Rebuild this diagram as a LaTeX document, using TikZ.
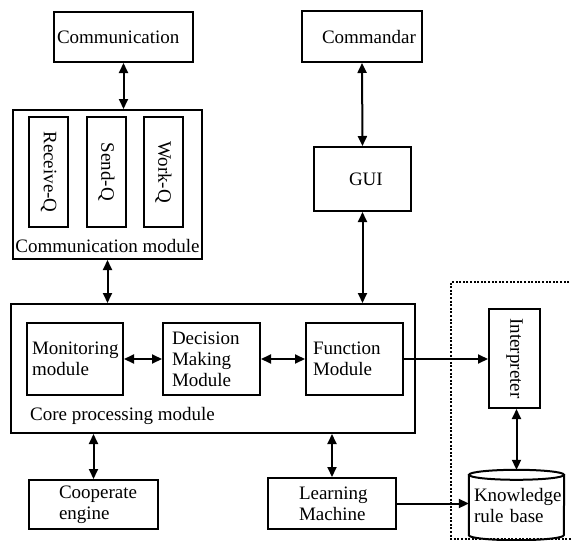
\documentclass[tikz,border=0pt]{standalone}
\usepackage{fontspec}
\setmainfont{Liberation Serif}
\usetikzlibrary{arrows.meta}
\tikzset{
  txt/.style={font=\fontsize{19}{21}\selectfont},
  box/.style={txt, draw, line width=2pt, inner sep=0pt, align=left},
  link/.style={line width=2pt, -{Triangle[length=10pt,width=9pt]}},
  dlink/.style={line width=2pt, {Triangle[length=10pt,width=9pt]}-{Triangle[length=10pt,width=9pt]}},
  groupframe/.style={line width=2.2pt, dash pattern=on 2pt off 1.6pt},
}
\begin{document}
\begin{tikzpicture}[x=1pt, y=-1pt]
\useasboundingbox (0,0) rectangle (571,541);

% top row
\node[box, minimum width=139pt, minimum height=50pt, text width=133pt] (comm) at (123.5,37) {Communication};
\node[box, minimum width=120pt, minimum height=51pt, text width=80pt] (cmd) at (362,36.5) {Commandar};
\node[box, minimum width=97pt, minimum height=64pt, text width=27pt] (gui) at (362.5,179) {GUI};

% communication module with its queues
\node[box, minimum width=189pt, minimum height=149pt] (cmod) at (107.5,184.5) {};
\node[box, minimum width=39pt, minimum height=110pt] (rq) at (48.5,172) {\rotatebox{-90}{Receive-Q}};
\node[box, minimum width=39pt, minimum height=110pt] (sq) at (106.5,172) {\rotatebox{-90}{Send-Q}};
\node[box, minimum width=39pt, minimum height=110pt] (wq) at (163.5,172) {\rotatebox{-90}{Work-Q}};
\node[txt, anchor=base, inner sep=0pt] (cmodlbl) at (107.5,252) {Communication module};

% core processing module
\node[box, minimum width=404pt, minimum height=129pt] (core) at (213,368.5) {};
\node[txt, anchor=base west, inner sep=0pt] (corelbl) at (30,420) {Core processing module};
\node[box, minimum width=96pt, minimum height=72pt, text width=86pt] (mon) at (75,359) {Monitoring\\module};
\node[box, minimum width=97pt, minimum height=72pt, text width=79pt] (dec) at (211.5,359) {Decision\\Making\\Module};
\node[box, minimum width=97pt, minimum height=72pt, text width=83pt] (fun) at (354.5,359) {Function\\Module};

% knowledge part
\node[box, minimum width=51pt, minimum height=99pt] (interp) at (514.5,358.5) {\rotatebox{-90}{Interpreter}};
\node[txt, align=left, inner sep=0pt, minimum width=95pt, minimum height=70pt, text width=85pt] (kb) at (516.5,505) {Knowledge\\rule base};
\draw[line width=2pt] ([yshift=-5pt]kb.north) ellipse [x radius=47.5pt, y radius=5pt];
\draw[line width=2pt] ([yshift=-5pt]kb.north west) -- ([yshift=5pt]kb.south west)
  arc[start angle=180, end angle=360, x radius=47.5pt, y radius=5pt] -- ([yshift=-5pt]kb.north east);

% bottom row
\node[box, minimum width=129pt, minimum height=49pt, text width=69pt] (coop) at (93.5,504.5) {Cooperate\\engine};
\node[box, minimum width=128pt, minimum height=51pt, text width=66pt] (learn) at (332,503.5) {Learning\\Machine};

% dotted group frame
\draw[groupframe] (580,282) -- (451,282) -- (451,539) -- (580,539);

% connectors
\draw[dlink] (comm.south) -- (comm.south |- cmod.north);
\draw[dlink] (cmd.south) -- (gui.north);
\draw[dlink] (gui.south) -- (gui.south |- core.north);
\draw[dlink] (cmod.south) -- (cmod.south |- core.north);
\draw[dlink] (mon.east) -- (dec.west);
\draw[dlink] (dec.east) -- (fun.west);
\draw[link] (fun.east) -- (fun.east -| interp.west);
\draw[dlink] (kb.north |- interp.south) -- (kb.north);
\draw[dlink] (coop.north) -- (coop.north |- core.south);
\draw[dlink] (learn.north) -- (learn.north |- core.south);
\draw[link] (learn.east) -- (learn.east -| kb.west);
\end{tikzpicture}
\end{document}
